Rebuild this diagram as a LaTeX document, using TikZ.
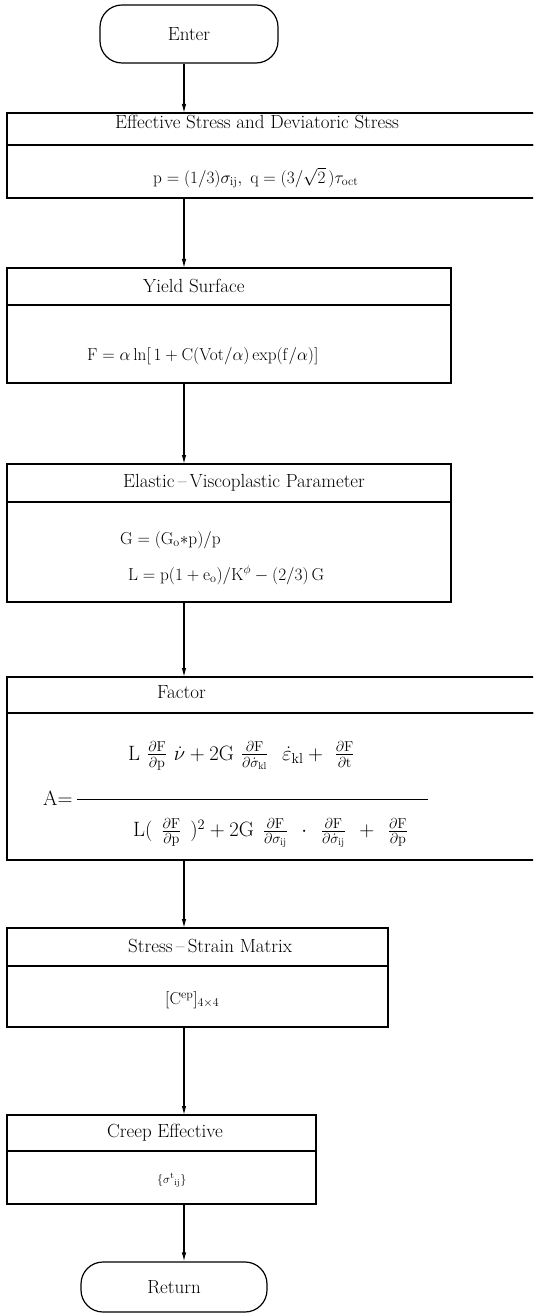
\documentclass[tikz,border=0pt]{standalone}
\usepackage{amsmath, amssymb}
\usepackage{tikz}
\usetikzlibrary{arrows.meta, positioning}
\newcommand{\titlefont}{\fontsize{19}{22}\selectfont}
\newcommand{\chartfont}{\fontsize{17}{20}\selectfont}
\newcommand{\fracfont}{\fontsize{20}{23}\selectfont}
\newcommand{\smallchartfont}{\fontsize{13}{15}\selectfont}
\newcommand{\fgap}{\hspace{7pt}}
\newcommand{\dgap}{\hspace{9pt}}

\begin{document}
\begin{tikzpicture}[
      x=1pt, y=-1pt,
      terminal/.style={draw, rounded corners=22pt, line width=1.2pt, minimum height=#1, inner sep=0pt, font=\titlefont},
      headbox/.style={draw, line width=1.2pt, inner sep=0pt, outer sep=0pt, anchor=north west},
      bodybox/.style={draw, line width=1.2pt, inner sep=0pt, outer sep=0pt},
      boxtitle/.style={inner sep=0pt, anchor=west, font=\titlefont},
      formula/.style={inner sep=0pt, anchor=west, font=\chartfont},
      flow/.style={-{Latex[length=9pt, width=4.5pt]}, line width=1.2pt},
  ]
    \useasboundingbox (0,0) rectangle (533,1313);
    \clip (0,0) rectangle (533,1313);

    \node[terminal=58pt, minimum width=178pt] (enter) at (189,34) {Enter};

    \node[headbox, minimum width=538pt, minimum height=32pt] (h1) at (7,113) {};
    \node[bodybox, minimum width=538pt, minimum height=53pt, below=0pt of h1] (b1) {};
    \node[headbox, minimum width=444pt, minimum height=37pt] (h2) at (7,268) {};
    \node[bodybox, minimum width=444pt, minimum height=78pt, below=0pt of h2] (b2) {};
    \node[headbox, minimum width=444pt, minimum height=38pt] (h3) at (7,464) {};
    \node[bodybox, minimum width=444pt, minimum height=100pt, below=0pt of h3] (b3) {};
    \node[headbox, minimum width=538pt, minimum height=36pt] (h4) at (7,677) {};
    \node[bodybox, minimum width=538pt, minimum height=147pt, below=0pt of h4] (b4) {};
    \node[headbox, minimum width=381pt, minimum height=38pt] (h5) at (7,928) {};
    \node[bodybox, minimum width=381pt, minimum height=61pt, below=0pt of h5] (b5) {};
    \node[headbox, minimum width=309pt, minimum height=36pt] (h6) at (7,1115) {};
    \node[bodybox, minimum width=309pt, minimum height=53pt, below=0pt of h6] (b6) {};

    \node[terminal=50pt, minimum width=186pt] (ret) at (174,1287) {Return};

    \node[boxtitle] (t1) at (115,122) {Effective Stress and Deviatoric Stress};
    \node[boxtitle] (t2) at (143,286) {Yield Surface};
    \node[boxtitle] (t3) at (123,483) {Elastic\,--\,Viscoplastic Parameter};
    \node[boxtitle] (t4) at (157,692) {Factor};
    \node[boxtitle] (t5) at (128,946) {Stress\,--\,Strain Matrix};
    \node[boxtitle] (t6) at (107,1133) {Creep Effective};

    \node[formula] (f1) at (153,178) {$\mathrm{p}=(1/3)\sigma_{\mathrm{ij}},\ \mathrm{q}=(3/\sqrt{2}\,)\tau_{\mathrm{oct}}$};
    \node[formula] (f2) at (87,356) {$\mathrm{F}=\alpha\ln[\,1+\mathrm{C}(\mathrm{Vot}/\alpha)\exp(\mathrm{f}/\alpha)]$};
    \node[formula] (f3a) at (120,540) {$\mathrm{G}=(\mathrm{G_o}{\ast}\mathrm{p})/\mathrm{p}$};
    \node[formula] (f3b) at (128,575) {$\mathrm{L}=\mathrm{p}(1+\mathrm{e_o})/\mathrm{K}^{\phi}-(2/3)\,\mathrm{G}$};
    \node[formula, anchor=base west, font=\fracfont] (f4) at (43,805) {$\mathrm{A}{=}\,\dfrac{\makebox[351pt][l]{\hspace*{51pt}$\mathrm{L}\fgap\frac{\partial\mathrm{F}}{\partial\mathrm{p}}\fgap\dot{\nu}+2\mathrm{G}\fgap\frac{\partial\mathrm{F}}{\partial\dot{\sigma}_{\mathrm{kl}}}\hspace{14pt}\dot{\varepsilon}_{\mathrm{kl}}+\fgap\frac{\partial\mathrm{F}}{\partial\mathrm{t}}$}\rule[-37pt]{0pt}{37pt}}{\rule{0pt}{34pt}\makebox[351pt][l]{\hspace*{56pt}$\mathrm{L}(\dgap\frac{\partial\mathrm{F}}{\partial\mathrm{p}}\dgap)^{2}+2\mathrm{G}\dgap\frac{\partial\mathrm{F}}{\partial\sigma_{\mathrm{ij}}}\dgap\cdot\dgap\frac{\partial\mathrm{F}}{\partial\dot{\sigma}_{\mathrm{ij}}}\dgap+\dgap\frac{\partial\mathrm{F}}{\partial\mathrm{p}}$}}$};
    \node[formula] (f5) at (165,1000) {$[\mathrm{C}^{\mathrm{ep}}]_{4\times4}$};
    \node[formula, font=\smallchartfont] (f6) at (157,1180) {$\{\sigma^{\mathrm{t}}{}_{\mathrm{ij}}\}$};

    \coordinate (spine) at (184,0);
    \draw[flow] (enter.south -| spine) -- (h1.north -| spine);
    \draw[flow] (b1.south -| spine) -- (h2.north -| spine);
    \draw[flow] (b2.south -| spine) -- (h3.north -| spine);
    \draw[flow] (b3.south -| spine) -- (h4.north -| spine);
    \draw[flow] (b4.south -| spine) -- (h5.north -| spine);
    \draw[flow] (b5.south -| spine) -- (h6.north -| spine);
    \draw[flow] (b6.south -| spine) -- (ret.north -| spine);
  \end{tikzpicture}
\end{document}
